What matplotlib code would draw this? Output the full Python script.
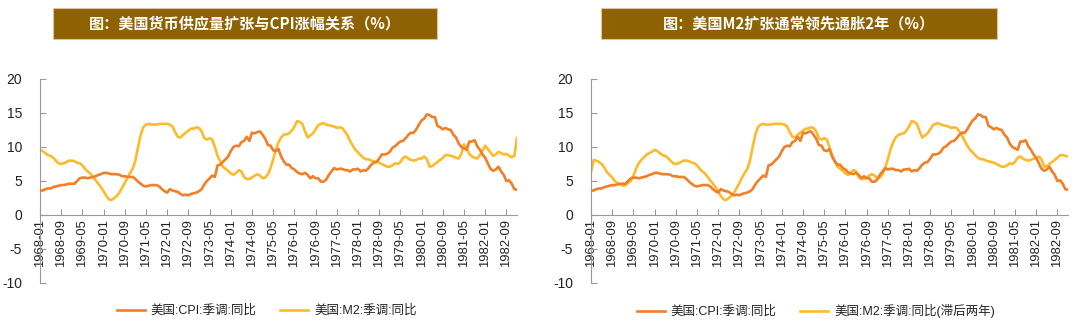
import matplotlib
matplotlib.use("Agg")
import matplotlib.pyplot as plt
from matplotlib.patches import Rectangle
import numpy as np

plt.rcParams['axes.unicode_minus'] = False
plt.rcParams['font.family'] = ['Liberation Sans', 'Noto Sans CJK SC', 'DejaVu Sans']

# CPI YoY (seasonally adjusted), monthly 1968-01 .. 1983-01
cpi = [
    3.6, 3.6, 3.8, 3.9, 3.9, 4.1, 4.2, 4.3, 4.4, 4.4, 4.5, 4.6,   # 1968
    4.6, 4.6, 5.0, 5.4, 5.5, 5.5, 5.4, 5.5, 5.6, 5.7, 5.9, 6.0,   # 1969
    6.2, 6.2, 6.1, 6.0, 6.0, 6.0, 5.9, 5.7, 5.7, 5.6, 5.6, 5.6,   # 1970
    5.3, 4.9, 4.6, 4.3, 4.2, 4.3, 4.4, 4.4, 4.4, 4.2, 3.8, 3.5,   # 1971
    3.3, 3.8, 3.6, 3.5, 3.4, 3.1, 2.9, 3.0, 2.9, 3.1, 3.2, 3.3,   # 1972
    3.5, 3.8, 4.5, 5.0, 5.4, 5.8, 5.6, 7.3, 7.4, 7.8, 8.2, 8.6,   # 1973
    9.4, 10.0, 10.2, 10.1, 10.7, 10.9, 11.5, 10.9, 12.1, 12.0, 12.2, 12.3,  # 1974
    11.8, 11.2, 10.3, 10.2, 9.5, 9.4, 9.7, 8.6, 7.9, 7.4, 7.4, 6.9,  # 1975
    6.7, 6.3, 6.1, 6.0, 6.2, 5.9, 5.4, 5.7, 5.4, 5.4, 4.9, 4.9,   # 1976
    5.2, 5.9, 6.4, 6.9, 6.7, 6.8, 6.8, 6.6, 6.6, 6.4, 6.7, 6.7,   # 1977
    6.8, 6.4, 6.6, 6.5, 6.9, 7.4, 7.7, 7.8, 8.3, 8.9, 8.9, 9.0,   # 1978
    9.3, 9.9, 10.1, 10.5, 10.8, 10.9, 11.3, 11.8, 12.1, 12.1, 12.6, 13.3,  # 1979
    13.9, 14.2, 14.8, 14.7, 14.4, 14.4, 13.1, 12.9, 12.6, 12.8, 12.6, 12.5,  # 1980
    11.8, 11.4, 10.5, 10.0, 9.8, 9.6, 10.8, 10.8, 11.0, 10.1, 9.6, 8.9,  # 1981
    8.4, 7.6, 6.8, 6.5, 6.7, 7.1, 6.4, 5.9, 5.0, 5.1, 4.6, 3.8,   # 1982
    3.7,                                                          # 1983-01
]

# M2 YoY (seasonally adjusted), monthly 1966-01 .. 1983-01
m2 = [
    6.3, 8.1, 8.0, 7.8, 7.5, 7.0, 6.3, 5.9, 5.5, 5.0, 4.7, 4.5,   # 1966
    4.3, 4.4, 4.7, 5.0, 5.8, 6.8, 7.6, 8.1, 8.5, 8.9, 9.1, 9.3,   # 1967
    9.6, 9.4, 9.1, 8.8, 8.7, 8.4, 8.0, 7.6, 7.5, 7.6, 7.8, 8.0,   # 1968
    8.0, 7.9, 7.7, 7.6, 7.3, 6.8, 6.4, 6.1, 5.6, 5.1, 4.6, 4.1,   # 1969
    3.5, 2.8, 2.3, 2.2, 2.5, 2.8, 3.3, 4.0, 4.7, 5.5, 6.2, 6.8,   # 1970
    8.0, 10.0, 11.8, 12.9, 13.3, 13.4, 13.3, 13.3, 13.3, 13.4, 13.4, 13.4,  # 1971
    13.4, 13.3, 13.0, 12.2, 11.5, 11.4, 11.8, 12.1, 12.4, 12.7, 12.7, 12.9,  # 1972
    12.8, 12.3, 11.3, 11.1, 11.3, 11.1, 10.0, 8.7, 7.9, 7.1, 6.8, 6.5,  # 1973
    6.1, 5.9, 6.2, 6.6, 6.4, 5.6, 5.3, 5.3, 5.5, 5.8, 6.0, 5.8,   # 1974
    5.4, 5.5, 6.0, 6.9, 8.2, 9.6, 10.7, 11.4, 11.8, 11.9, 12.0, 12.4,  # 1975
    13.0, 13.8, 13.7, 13.4, 12.3, 11.4, 11.7, 12.0, 12.6, 13.2, 13.4, 13.5,  # 1976
    13.3, 13.2, 13.1, 13.0, 12.8, 12.9, 12.8, 12.3, 11.7, 10.9, 10.2, 9.6,  # 1977
    9.2, 8.8, 8.4, 8.2, 8.2, 8.0, 7.9, 7.8, 7.7, 7.5, 7.3, 7.1,   # 1978
    7.1, 7.3, 7.6, 7.5, 7.8, 8.4, 8.6, 8.3, 8.1, 8.0, 8.1, 8.3,   # 1979
    8.3, 8.6, 8.2, 7.1, 7.2, 7.5, 7.8, 8.1, 8.4, 8.8, 8.8, 8.7,   # 1980
    8.6, 8.4, 8.3, 9.0, 10.4, 9.8, 9.0, 8.6, 8.4, 8.3, 8.8, 9.5,  # 1981
    10.2, 9.7, 9.2, 8.7, 8.9, 9.3, 9.1, 8.9, 9.0, 8.7, 8.5, 8.7,  # 1982
    11.3,                                                         # 1983-01
]

n = len(cpi)
dates = [f"{1968 + i // 12}-{i % 12 + 1:02d}" for i in range(n)]
tick_idx = list(range(0, n, 8))
tick_labels = [dates[i] for i in tick_idx]

m2_same = m2[24:24 + n]      # M2 same period
m2_lag2 = m2[0:n]            # M2 lagged two years

titles = ["图：美国货币供应量扩张与CPI涨幅关系（%）", "图：美国M2扩张通常领先通胀2年（%）"]
legend2 = [["美国:CPI:季调:同比", "美国:M2:季调:同比"],
           ["美国:CPI:季调:同比", "美国:M2:季调:同比(滞后两年)"]]
series2 = [m2_same, m2_lag2]

CPI_C = '#F07F27'
M2_C = '#FDBB2C'
BROWN = '#8F6200'
W, H = 1080, 326

fig = plt.figure(figsize=(10.8, 3.26), dpi=100)

ax_lefts = [40, 591]
box_x = [(53, 437), (601, 997)]
leg_x = [117, 637]

for k in range(2):
    x0 = ax_lefts[k]
    ax = fig.add_axes([x0 / W, 1 - 283 / H, 477 / W, (283 - 79) / H])
    x = np.arange(n)
    ax.plot(x, cpi, color=CPI_C, lw=1.9, label=legend2[k][0], zorder=3)
    ax.plot(x, series2[k], color=M2_C, lw=1.9, label=legend2[k][1], zorder=2)
    ax.set_xlim(0, n - 1)
    ax.set_ylim(-10, 20)
    ax.set_yticks([-10, -5, 0, 5, 10, 15, 20])
    ax.set_xticks(tick_idx)
    ax.set_xticklabels(tick_labels)
    for s in ['top', 'right']:
        ax.spines[s].set_visible(False)
    ax.spines['bottom'].set_position(('data', 0))
    ax.spines['bottom'].set_color('#999999')
    ax.spines['left'].set_color('#999999')
    ax.tick_params(axis='x', direction='in', length=4, color='#999999', pad=3,
                   labelrotation=90, labelsize=9.4, labelcolor='#222222')
    ax.tick_params(axis='y', direction='in', length=4, color='#999999', pad=13,
                   labelsize=10, labelcolor='#222222')
    ax.patch.set_visible(False)

    # title box
    bx0, bx1 = box_x[k]
    fig.patches.append(Rectangle((bx0 / W, 1 - 39 / H), (bx1 - bx0) / W, 31 / H,
                                 transform=fig.transFigure, facecolor=BROWN,
                                 edgecolor='#D8C8A0', lw=0.8, zorder=0))
    fig.text((bx0 + bx1) / 2 / W, 1 - 23.5 / H, titles[k], color='white',
             fontsize=10.9, fontweight='bold', ha='center', va='center',
             family=['Noto Sans CJK SC', 'DejaVu Sans'])

    # legend
    leg = fig.legend(handles=ax.get_lines(), loc='center left',
                     bbox_to_anchor=(leg_x[k] / W, 1 - 311 / H), ncol=2,
                     frameon=False, fontsize=9, handlelength=2.2,
                     handletextpad=0.5, columnspacing=1.9, borderaxespad=0,
                     borderpad=0)
    for t in leg.get_texts():
        t.set_color('#222222')

fig.savefig("out.png", dpi=100)
